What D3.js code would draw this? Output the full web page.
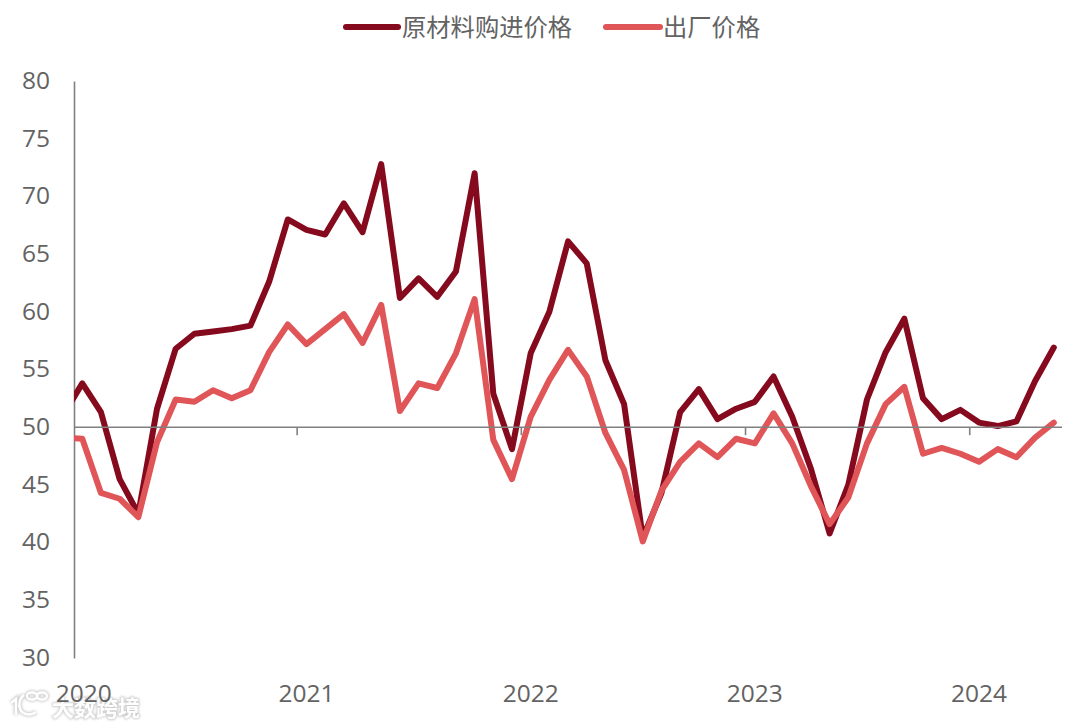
<!DOCTYPE html>
<html><head><meta charset="utf-8">
<script src="https://cdn.jsdelivr.net/npm/d3@7/dist/d3.min.js"></script>
<style>html,body{margin:0;padding:0;background:#fff}svg{display:block}</style>
</head><body><svg id="c" width="1080" height="727"></svg>
<script>
const yTicks = [30,35,40,45,50,55,60,65,70,75,80];
const yearLabels = ["2020","2021","2022","2023","2024"];
const seriesNames = ["原材料购进价格","出厂价格"];
const rawMaterial = [51.1,53.8,51.3,45.5,42.5,51.6,56.8,58.1,58.3,58.5,58.8,62.6,68.0,67.1,66.7,69.4,66.9,72.8,61.2,62.9,61.3,63.5,72.0,52.9,48.1,56.4,60.0,66.1,64.2,55.8,52.0,40.4,44.3,51.3,53.3,50.7,51.6,52.2,54.4,50.9,46.4,40.8,45.0,52.4,56.5,59.4,52.5,50.7,51.5,50.4,50.1,50.5,54.0,56.9];
const exFactory = [49.1,49.0,44.3,43.8,42.2,48.7,52.4,52.2,53.2,52.5,53.2,56.5,58.9,57.2,58.5,59.8,57.3,60.6,51.4,53.8,53.4,56.4,61.1,48.9,45.5,50.9,54.1,56.7,54.4,49.5,46.3,40.1,44.5,47.0,48.6,47.4,49.0,48.6,51.2,48.6,44.9,41.6,43.9,48.6,52.0,53.5,47.7,48.2,47.7,47.0,48.1,47.4,49.1,50.4];
const colors = ["#850a1e","#e05558"];

const months = rawMaterial.map((_, i) => i);
const x = d3.scalePoint().domain(months).range([63.6, 1053.8]);
const y = d3.scaleLinear().domain([30, 80]).range([658, 81]);
const step = x.step();
const svg = d3.select("#c");
const font = "'Open Sans','Noto Sans CJK SC',sans-serif";
const textCol = "#636363", axisCol = "#808080";

const defs = svg.append("defs");
defs.append("clipPath").attr("id","plot").append("rect")
  .attr("x",74).attr("y",0).attr("width",1006).attr("height",727);
defs.append("filter").attr("id","soft").attr("x","-20%").attr("y","-40%").attr("width","140%").attr("height","180%")
  .append("feGaussianBlur").attr("stdDeviation",1.2);

// y axis
const yAxis = svg.append("g").attr("transform","translate(74,0)")
  .call(d3.axisLeft(y).tickValues(yTicks).tickSize(0).tickPadding(24));
yAxis.select(".domain").attr("stroke",axisCol).attr("stroke-width",1.6);
yAxis.selectAll("text").attr("font-family",font).attr("font-size",24.5).attr("fill",textCol).attr("dy","0.3em");

// x axis crossing at 50
const janIdx = yearLabels.map((_, i) => 1 + i*12);
const xAxisG = svg.append("g");
xAxisG.append("line").attr("x1",74).attr("x2",1062).attr("y1",y(50)).attr("y2",y(50))
  .attr("stroke",axisCol).attr("stroke-width",1.6);
xAxisG.selectAll("line.t").data(janIdx.slice(1)).join("line").attr("class","t")
  .attr("x1",d=>x(d)-step/2).attr("x2",d=>x(d)-step/2)
  .attr("y1",y(50)).attr("y2",y(50)+8).attr("stroke",axisCol).attr("stroke-width",1.6);

// lines
const line = d3.line().x((d,i)=>x(i)).y(d=>y(d));
[rawMaterial, exFactory].forEach((s,i)=>{
  svg.append("path").datum(s).attr("clip-path","url(#plot)").attr("d",line)
    .attr("fill","none").attr("stroke",colors[i]).attr("stroke-width",6)
    .attr("stroke-linejoin","round").attr("stroke-linecap","round");
});

// legend
const legendItems = [{x1:346,x2:398,tx:402},{x1:606,x2:660,tx:663}];
legendItems.forEach((l,i)=>{
  svg.append("line").attr("x1",l.x1).attr("x2",l.x2).attr("y1",27).attr("y2",27)
    .attr("stroke",colors[i]).attr("stroke-width",6).attr("stroke-linecap","round");
  svg.append("text").attr("x",l.tx).attr("y",36).attr("font-family",font)
    .attr("font-size",24.3).attr("fill",textCol).text(seriesNames[i]);
});

// watermark (logo + name), soft grey halo around white glyphs
const wm = svg.append("g").attr("opacity",0.8);
const drawMark = (g, sw, col) => {
  g.append("path").attr("d","M11 703 L16 699 L16 715").attr("fill","none").attr("stroke",col).attr("stroke-width",sw);
  g.append("path").attr("d","M36 712 A11 11 0 0 1 22 712 A12 12 0 0 1 24 695").attr("fill","none").attr("stroke",col).attr("stroke-width",sw);
  [[32,696],[42,696]].forEach(([cx,cy])=>g.append("ellipse").attr("cx",cx).attr("cy",cy).attr("rx",5).attr("ry",3.5)
    .attr("fill","none").attr("stroke",col).attr("stroke-width",sw));
};
const halo = wm.append("g").attr("filter","url(#soft)");
drawMark(halo, 5, "#c8c8c8");
drawMark(wm, 2.4, "#fff");
const wmAttrs = s => s.attr("x",52).attr("y",716).attr("font-family","'Noto Sans CJK SC',sans-serif")
  .attr("font-size",22).attr("font-weight",700).text("大数跨境");
halo.append("text").call(wmAttrs).attr("fill","#c0c0c0").attr("stroke","#c0c0c0").attr("stroke-width",2);
wm.append("text").call(wmAttrs).attr("fill","#fff");

// year labels drawn above the watermark, as in the reference
xAxisG.raise();
xAxisG.selectAll("text").data(yearLabels).join("text")
  .attr("x",(d,i)=>x(janIdx[i])+ (i===0?1.5:0)).attr("y",702).attr("text-anchor","middle")
  .attr("font-family",font).attr("font-size",24.5).attr("fill",textCol).text(d=>d);
</script></body></html>
